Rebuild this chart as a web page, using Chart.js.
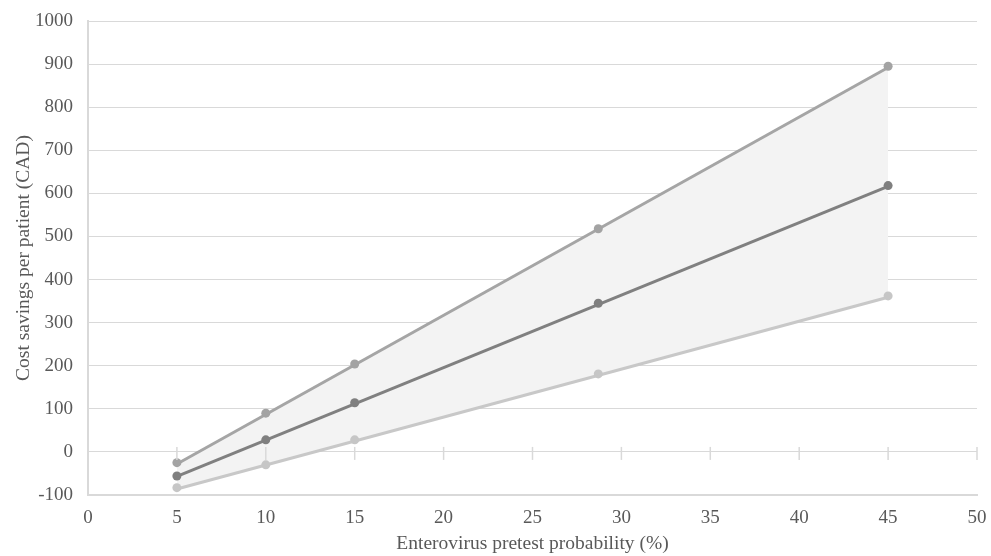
<!DOCTYPE html>
<html>
<head>
<meta charset="utf-8">
<script src="https://cdn.jsdelivr.net/npm/chart.js@4.4.1/dist/chart.umd.min.js"></script>
<style>
  html, body { margin: 0; padding: 0; background: #ffffff; }
  #wrap { width: 991px; height: 556px; }
</style>
</head>
<body>
<div id="wrap"><canvas id="savings-chart" width="991" height="556"></canvas></div>
<script>
// Pretest probability (%) and cost savings per patient (CAD)
const probability = [5, 10, 15, 28.7, 45];
const upperSavings = [-25, 90, 204, 518, 895];
const baseSavings = [-56, 28, 114, 345, 618];
const lowerSavings = [-83, -30, 28, 181, 362];

// Linear trendline end points (x = 5 and x = 45)
const trendProbability = [5, 45];
const upperTrend = [-28, 892];
const baseTrend = [-57, 616];
const lowerTrend = [-86, 359];

const xTicks = [0, 5, 10, 15, 20, 25, 30, 35, 40, 45, 50];
const yTicks = [-100, 0, 100, 200, 300, 400, 500, 600, 700, 800, 900, 1000];

function toPoints(xs, ys) {
  return xs.map((x, i) => ({ x: x, y: ys[i] }));
}

const tickFont = { family: "'Liberation Serif', 'Times New Roman', serif", size: 19 };
const titleFont = { family: "'Liberation Serif', 'Times New Roman', serif", size: 19.5, lineHeight: 1.2 };

// Small cross tick marks on the zero line, like the Excel horizontal axis
const zeroTicks = {
  id: 'zeroTicks',
  afterDatasetsDraw(chart) {
    const { ctx, scales } = chart;
    const y0 = scales.y.getPixelForValue(0);
    ctx.save();
    ctx.strokeStyle = '#d9d9d9';
    ctx.lineWidth = 1.5;
    xTicks.slice(1).forEach((v) => {
      const px = scales.x.getPixelForValue(v);
      ctx.beginPath();
      ctx.moveTo(px, y0 - 5);
      ctx.lineTo(px, y0 + 8);
      ctx.stroke();
    });
    ctx.restore();
  },
};

const lineStyle = (color, order) => ({
  showLine: true,
  borderColor: color,
  borderWidth: 3,
  pointRadius: 0,
  pointHoverRadius: 0,
  fill: false,
  order: order,
});

const pointStyle = (color) => ({
  showLine: false,
  backgroundColor: color,
  borderColor: color,
  pointRadius: 4.5,
  pointBorderWidth: 0,
  order: 0,
});

new Chart(document.getElementById('savings-chart'), {
  type: 'scatter',
  data: {
    datasets: [
      { label: 'Upper', data: toPoints(probability, upperSavings), ...pointStyle('#a3a3a3') },
      { label: 'Base', data: toPoints(probability, baseSavings), ...pointStyle('#7f7f7f') },
      { label: 'Lower', data: toPoints(probability, lowerSavings), ...pointStyle('#c6c6c6') },
      {
        label: 'Upper trend',
        data: toPoints(trendProbability, upperTrend),
        ...lineStyle('#a5a5a5', 3),
        fill: 5,
        backgroundColor: '#f3f3f3',
      },
      { label: 'Base trend', data: toPoints(trendProbability, baseTrend), ...lineStyle('#808080', 2) },
      { label: 'Lower trend', data: toPoints(trendProbability, lowerTrend), ...lineStyle('#c8c8c8', 2) },
    ],
  },
  options: {
    responsive: false,
    animation: false,
    layout: { padding: { top: 21, right: 14, bottom: 0, left: 0 } },
    plugins: {
      legend: { display: false },
      tooltip: { enabled: false },
    },
    scales: {
      x: {
        type: 'linear',
        min: 0,
        max: 50,
        afterBuildTicks: (scale) => { scale.ticks = xTicks.map((v) => ({ value: v })); },
        afterFit: (scale) => {
          scale.height = 61;
          scale.paddingLeft = 0;
          scale.paddingRight = 0;
        },
        grid: { display: false },
        border: { display: true, color: '#d9d9d9', width: 2 },
        ticks: { color: '#595959', font: tickFont, padding: 4, maxRotation: 0, callback: (v) => String(v) },
        title: {
          display: true,
          text: 'Enterovirus pretest probability (%)',
          color: '#595959',
          font: titleFont,
          padding: { top: 0, bottom: 0 },
        },
      },
      y: {
        type: 'linear',
        min: -100,
        max: 1000,
        afterBuildTicks: (scale) => { scale.ticks = yTicks.map((v) => ({ value: v })); },
        afterFit: (scale) => {
          scale.width = 88;
          scale.paddingTop = 0;
          scale.paddingBottom = 0;
        },
        grid: { color: '#d9d9d9', lineWidth: 1, drawTicks: false },
        border: { display: true, color: '#d9d9d9', width: 2 },
        ticks: { color: '#595959', font: tickFont, padding: 15, callback: (v) => String(v) },
        title: {
          display: true,
          text: 'Cost savings per patient (CAD)',
          color: '#595959',
          font: titleFont,
          padding: { top: 12, bottom: 0 },
        },
      },
    },
  },
  plugins: [zeroTicks],
});
</script>
</body>
</html>
